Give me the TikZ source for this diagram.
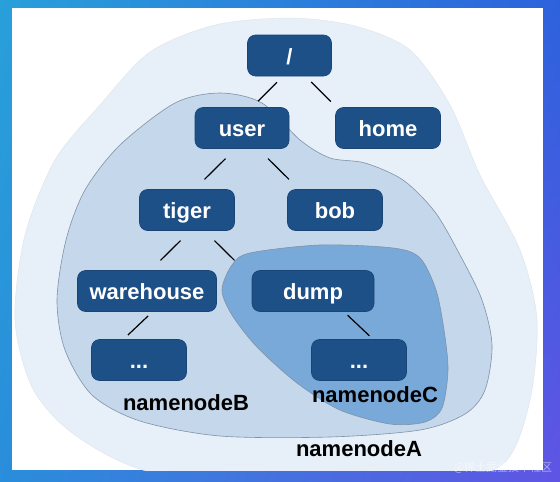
\documentclass[tikz,border=0pt]{standalone}
\usepackage{fontspec}
\setmainfont{Liberation Sans}
\newfontfamily\cjkfont{Noto Sans CJK SC}
\usetikzlibrary{shadings}

\definecolor{framecyan}{RGB}{40,160,218}
\definecolor{frameblue}{RGB}{45,98,220}
\definecolor{framepurple}{RGB}{96,84,228}
\definecolor{dirblue}{RGB}{30,80,136}
\definecolor{zoneA}{RGB}{231,239,248}
\definecolor{zoneB}{RGB}{196,215,235}
\definecolor{zoneC}{RGB}{121,169,217}
\definecolor{zoneline}{RGB}{128,146,166}

\begin{document}
\begin{tikzpicture}[x=1pt,y=-1pt,
  dir/.style={fill=dirblue,draw=dirblue!85!black,line width=0.6pt,rounded corners=8pt,
    text=white,font=\bfseries\fontsize{22}{26}\selectfont,minimum height=41pt,
    text height=17pt,text depth=0pt,inner sep=0pt},
  branch/.style={line width=1.2pt,shorten <=#1,shorten >=#1},
  branch/.default=14pt,
  zone/.style={font=\bfseries\fontsize{22}{26}\selectfont,anchor=base}
]
  % frame and panel
  \shade[upper left=framecyan,upper right=frameblue,lower left=framecyan!70!frameblue,
    lower right=framepurple] (0,0) rectangle (560,482);
  \fill[white] (12,8) rectangle (543,470);

  % namenode zones
  \begin{scope}
    \clip (12,8) rectangle (543,470);
    \draw[fill=zoneA,draw=zoneA!90!gray] plot[smooth cycle] coordinates {
      (290,18) (215,25) (150,52) (100,105) (55,160) (25,235) (15,320) (33,389)
      (75,435) (150,472) (300,492) (440,484) (505,462) (530,400) (537,320)
      (520,250) (480,175) (450,105) (410,50) (355,26)};
    \draw[fill=zoneB,draw=zoneline,line width=0.6pt] plot[smooth cycle] coordinates {
      (175,103) (220,93) (262,103) (300,140) (330,158) (365,163) (403,180)
      (435,212) (460,255) (482,300) (492,345) (485,390) (465,414) (420,430)
      (330,437) (220,436) (140,421) (92,395) (65,350) (57,300) (66,240)
      (85,190) (120,145)};
    \draw[fill=zoneC,draw=zoneline,line width=0.6pt] plot[smooth cycle] coordinates {
      (250,253) (320,245) (393,248) (420,258) (436,290) (444,330) (448,370)
      (442,408) (425,422) (390,424) (340,410) (297,383) (257,347) (232,315)
      (222,290) (232,265)};
  \end{scope}

  \node[dir,minimum width=84pt] (root) at (289.5,55.5) {/};
  \node[dir,minimum width=94pt] (user) at (242,128) {user};
  \node[dir,minimum width=105pt] (home) at (388,128) {home};
  \node[dir,minimum width=95pt] (tiger) at (187,210) {tiger};
  \node[dir,minimum width=95pt] (bob) at (335,210) {bob};
  \node[dir,minimum width=139pt] (warehouse) at (147,291) {warehouse};
  \node[dir,minimum width=122pt] (dump) at (313,291) {dump};
  \node[dir,minimum width=95pt] (whmore) at (139,360) {...};
  \node[dir,minimum width=95pt] (dumpmore) at (359,360) {...};

  \draw[branch=8.5pt] ([xshift=-6.5pt]root.south) -- ([xshift=10pt]user.north);
  \draw[branch=8pt] ([xshift=16pt]root.south) -- ([xshift=-51.5pt]home.north);
  \draw[branch] ([xshift=-6.5pt]user.south) -- ([xshift=7.5pt]tiger.north);
  \draw[branch] ([xshift=16pt]user.south) -- ([xshift=-36pt]bob.north);
  \draw[branch] ([xshift=3.5pt]tiger.south) -- ([xshift=3.5pt]warehouse.north);
  \draw[branch] ([xshift=17.5pt]tiger.south) -- ([xshift=-68.5pt]dump.north);
  \draw[branch=6pt] ([xshift=5.5pt]warehouse.south) -- ([xshift=-15.5pt]whmore.north);
  \draw[branch=5pt] ([xshift=31pt]dump.south) -- ([xshift=14pt]dumpmore.north);

  \node[zone] (labelB) at (186,410) {namenodeB};
  \node[zone] (labelC) at (375,402) {namenodeC};
  \node[zone] (labelA) at (359,456) {namenodeA};

  \node[font=\cjkfont\fontsize{11}{13}\selectfont,text=white,opacity=0.55]
    (mark) at (503,468) {@稀土掘金技术社区};
\end{tikzpicture}
\end{document}
